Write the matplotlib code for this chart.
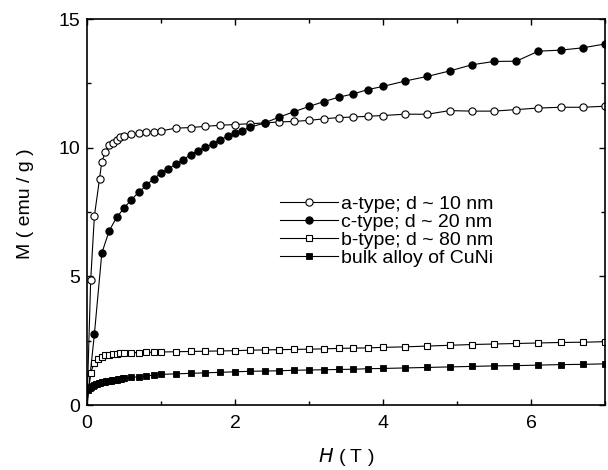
import matplotlib
matplotlib.use("Agg")
import matplotlib.pyplot as plt
from matplotlib.ticker import MultipleLocator

plt.rcParams['font.family'] = ['Liberation Sans', 'DejaVu Sans']

# a-type; d ~ 10 nm (open circles)
a_H = [0, 0.05, 0.1, 0.17, 0.2, 0.25, 0.3, 0.35, 0.4, 0.45, 0.5, 0.6, 0.7, 0.8, 0.9, 1.0,
       1.2, 1.4, 1.6, 1.8, 2.0, 2.2, 2.4, 2.6, 2.8, 3.0, 3.2, 3.4, 3.6, 3.8, 4.0,
       4.3, 4.6, 4.9, 5.2, 5.5, 5.8, 6.1, 6.4, 6.7, 7.0]
a_M = [0, 4.86, 7.35, 8.8, 9.46, 9.84, 10.09, 10.2, 10.3, 10.4, 10.47, 10.52, 10.56, 10.6, 10.62, 10.65,
       10.76, 10.78, 10.83, 10.87, 10.9, 10.93, 10.96, 11.0, 11.02, 11.06, 11.12, 11.17, 11.19, 11.22, 11.25,
       11.3, 11.3, 11.44, 11.42, 11.42, 11.48, 11.54, 11.57, 11.57, 11.61]

# c-type; d ~ 20 nm (filled circles)
c_H = [0, 0.1, 0.2, 0.3, 0.4, 0.5, 0.6, 0.7, 0.8, 0.9, 1.0, 1.1, 1.2, 1.3, 1.4, 1.5, 1.6, 1.7,
       1.8, 1.9, 2.0, 2.1, 2.2, 2.4, 2.6, 2.8, 3.0, 3.2, 3.4, 3.6, 3.8, 4.0,
       4.3, 4.6, 4.9, 5.2, 5.5, 5.8, 6.1, 6.4, 6.7, 7.0]
c_M = [0, 2.76, 5.9, 6.77, 7.29, 7.65, 7.98, 8.27, 8.53, 8.8, 9.0, 9.18, 9.36, 9.53, 9.73, 9.88, 10.02, 10.15,
       10.3, 10.45, 10.58, 10.66, 10.79, 10.96, 11.19, 11.4, 11.6, 11.79, 11.96, 12.09, 12.26, 12.38,
       12.59, 12.77, 12.98, 13.22, 13.35, 13.36, 13.75, 13.79, 13.88, 14.03]

# b-type; d ~ 80 nm (open squares)
b_H = [0, 0.05, 0.1, 0.15, 0.2, 0.25, 0.3, 0.35, 0.4, 0.45, 0.5, 0.6, 0.7, 0.8, 0.9, 1.0,
       1.2, 1.4, 1.6, 1.8, 2.0, 2.2, 2.4, 2.6, 2.8, 3.0, 3.2, 3.4, 3.6, 3.8, 4.0,
       4.3, 4.6, 4.9, 5.2, 5.5, 5.8, 6.1, 6.4, 6.7, 7.0]
b_M = [0, 1.26, 1.65, 1.8, 1.88, 1.93, 1.96, 1.98, 2.0, 2.01, 2.02, 2.03, 2.04, 2.05, 2.05, 2.06,
       2.07, 2.08, 2.09, 2.1, 2.11, 2.13, 2.14, 2.15, 2.16, 2.17, 2.18, 2.2, 2.21, 2.22, 2.24,
       2.26, 2.29, 2.32, 2.35, 2.37, 2.39, 2.41, 2.43, 2.44, 2.46]

# bulk alloy of CuNi (filled squares)
bulk_H = [0.02, 0.04, 0.06, 0.08, 0.10, 0.12, 0.14, 0.16, 0.18, 0.20, 0.22, 0.24, 0.26, 0.28, 0.30,
          0.32, 0.34, 0.36, 0.38, 0.40, 0.42, 0.44, 0.46, 0.48, 0.50,
          0.6, 0.7, 0.8, 0.9, 1.0, 1.2, 1.4, 1.6, 1.8, 2.0, 2.2, 2.4, 2.6, 2.8, 3.0, 3.2, 3.4, 3.6, 3.8, 4.0,
          4.3, 4.6, 4.9, 5.2, 5.5, 5.8, 6.1, 6.4, 6.7, 7.0]
bulk_M = [0.58, 0.66, 0.71, 0.75, 0.78, 0.8, 0.82, 0.84, 0.86, 0.88, 0.89, 0.9, 0.92, 0.93, 0.94,
          0.95, 0.96, 0.97, 0.98, 0.99, 1.0, 1.01, 1.02, 1.03, 1.04,
          1.07, 1.1, 1.13, 1.16, 1.19, 1.21, 1.23, 1.25, 1.27, 1.29, 1.31, 1.32, 1.33, 1.35, 1.36, 1.37, 1.38, 1.39, 1.41, 1.42,
          1.44, 1.46, 1.48, 1.5, 1.52, 1.53, 1.55, 1.57, 1.58, 1.6]

labels = ["a-type; d ~ 10 nm", "c-type; d ~ 20 nm", "b-type; d ~ 80 nm", "bulk alloy of CuNi"]

fig = plt.figure(figsize=(6.08, 4.70), dpi=100)
ax = fig.add_axes([87/608, 1-405/470, (605-87)/608, (405-19)/470])

lw = 0.8
ax.plot(a_H, a_M, '-o', color='black', mfc='white', mec='black', ms=5.2, mew=0.8, lw=lw,
        markevery=list(range(1, len(a_H))), label=labels[0])
ax.plot(c_H, c_M, '-o', color='black', mfc='black', mec='black', ms=5.2, mew=0.8, lw=lw,
        markevery=list(range(1, len(c_H))), label=labels[1])
ax.plot(b_H, b_M, '-s', color='black', mfc='white', mec='black', ms=4.5, mew=0.8, lw=lw,
        markevery=list(range(1, len(b_H))), label=labels[2])
ax.plot(bulk_H, bulk_M, '-s', color='black', mfc='black', mec='black', ms=4.0, mew=0.6, lw=lw,
        label=labels[3])

ax.set_xlim(0, 7)
ax.set_ylim(0, 15)
ax.xaxis.set_major_locator(MultipleLocator(2))
ax.xaxis.set_minor_locator(MultipleLocator(1))
ax.yaxis.set_major_locator(MultipleLocator(5))
ax.yaxis.set_minor_locator(MultipleLocator(2.5))
ax.tick_params(which='both', direction='in', top=True, right=True, width=1.0, labelsize=14)
ax.tick_params(which='major', length=4.5)
ax.tick_params(which='minor', length=3)
ax.tick_params(axis='x', pad=7)
ax.tick_params(axis='y', pad=5)
for s in ax.spines.values():
    s.set_linewidth(1.2)

ax.set_xlabel(r"$\mathit{H}$ ( T )", fontsize=14)
ax.set_ylabel("M ( emu / g )", fontsize=14)
ax.xaxis.set_label_coords(0.5, -0.105)
ax.yaxis.set_label_coords(-0.102, 0.521)

leg = ax.legend(loc='upper left', bbox_to_anchor=((280-87)/518, (405-195)/386),
                frameon=False, fontsize=14, handlelength=3.0, handletextpad=0.15,
                labelspacing=0.02, borderpad=0, borderaxespad=0)

fig.savefig("out.png", dpi=100)
